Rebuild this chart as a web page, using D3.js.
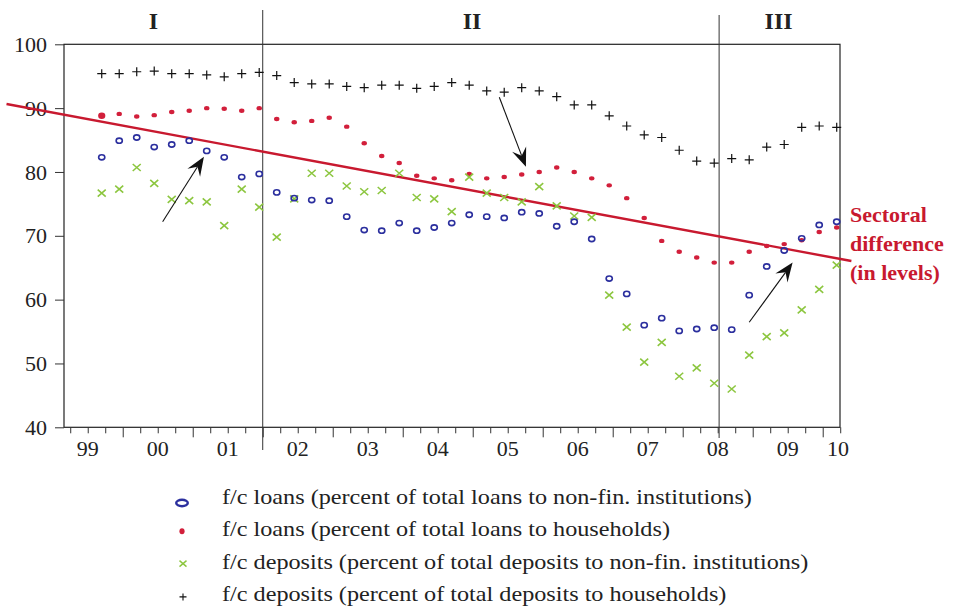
<!DOCTYPE html>
<html><head><meta charset="utf-8">
<script src="https://cdn.jsdelivr.net/npm/d3@7"></script>
<style>
body{margin:0;background:#fff}
svg{display:block}
text{font-family:"Liberation Serif","Times New Roman",serif;fill:#222}
</style>
</head><body>
<svg id="chart" width="963" height="608"></svg>
<script>
// ---------------- DATA ----------------
const quarters = ["1999Q3","1999Q4",
 "2000Q1","2000Q2","2000Q3","2000Q4",
 "2001Q1","2001Q2","2001Q3","2001Q4",
 "2002Q1","2002Q2","2002Q3","2002Q4",
 "2003Q1","2003Q2","2003Q3","2003Q4",
 "2004Q1","2004Q2","2004Q3","2004Q4",
 "2005Q1","2005Q2","2005Q3","2005Q4",
 "2006Q1","2006Q2","2006Q3","2006Q4",
 "2007Q1","2007Q2","2007Q3","2007Q4",
 "2008Q1","2008Q2","2008Q3","2008Q4",
 "2009Q1","2009Q2","2009Q3","2009Q4",
 "2010Q1"];
// f/c loans (percent of total loans to non-fin. institutions)
const loansNonFin = [82.3,84.9,85.4,83.9,84.3,84.9,83.3,82.3,79.2,79.7,
 76.8,75.9,75.6,75.5,73.0,70.9,70.8,72.0,70.8,71.3,
 72.0,73.3,73.0,72.8,73.7,73.5,71.5,72.2,69.5,63.3,
 60.9,56.0,57.1,55.1,55.4,55.6,55.3,60.7,65.2,67.7,
 69.6,71.7,72.2];
// f/c loans (percent of total loans to households)
const loansHouseholds = [88.8,89.1,88.7,88.9,89.4,89.6,90.0,89.9,89.6,90.0,
 88.3,87.8,88.0,88.5,87.1,84.5,82.5,81.4,79.4,79.0,
 78.7,79.7,79.0,79.2,79.6,80.0,80.7,80.0,79.0,77.9,
 75.9,72.8,69.2,67.5,66.6,65.8,65.8,67.5,68.4,68.7,
 69.3,70.6,71.3];
// f/c deposits (percent of total deposits to non-fin. institutions)
const depositsNonFin = [76.7,77.3,80.7,78.2,75.7,75.5,75.3,71.6,77.3,74.5,
 69.8,75.8,79.8,79.8,77.8,76.9,77.1,79.8,76.0,75.8,
 73.8,79.2,76.7,76.0,75.3,77.7,74.7,73.1,72.9,60.7,
 55.7,50.2,53.3,48.0,49.3,46.9,46.0,51.3,54.2,54.8,
 58.4,61.6,65.4];
// f/c deposits (percent of total deposits to households)
const depositsHouseholds = [95.4,95.4,95.7,95.8,95.4,95.4,95.2,94.9,95.4,95.6,
 95.1,94.0,93.8,93.8,93.4,93.2,93.6,93.6,93.1,93.4,
 94.0,93.6,92.7,92.5,93.2,92.7,91.8,90.5,90.5,88.8,
 87.2,85.8,85.4,83.4,81.7,81.4,82.1,81.9,83.9,84.3,
 87.0,87.2,87.0];

const yTicks = [40,50,60,70,80,90,100];
const yearTicks = [1999,2000,2001,2002,2003,2004,2005,2006,2007,2008,2009,2010];
const yearLabels = ["99","00","01","02","03","04","05","06","07","08","09","10"];
const sectionBreaks = [2002.0, 2008.52];
const sectionLabels = ["I","II","III"];
const sectionLabelAt = [2000.44, 2004.99, 2009.37];
// trend line "Sectoral difference (in levels)" endpoints [time, value]
const trendLine = [[1998.34, 90.65],[2010.41, 66.05]];
// annotation arrows [tail, tip] as [time, value]
const arrows = [
  [[2000.57, 72.2],[2001.16, 82.4]],
  [[2005.38, 91.7],[2005.76, 80.8]],
  [[2008.95, 56.45],[2009.57, 65.8]]
];
const trendLabel = ["Sectoral","difference","(in levels)"];
const legendLabels = [
  "f/c loans (percent of total loans to non-fin. institutions)",
  "f/c loans (percent of total loans to households)",
  "f/c deposits (percent of total deposits to non-fin. institutions)",
  "f/c deposits (percent of total deposits to households)"
];

// ---------------- CHART ----------------
(function(){
const svg = d3.select("#chart");
const pL = 64, pR = 840, pT = 44.3, pB = 427.3;
const x = d3.scaleLinear().domain([1999.161, 2010.247]).range([pL, pR]);
const y = d3.scaleLinear().domain([40, 100]).range([pB, pT]);
const qTime = q => +q.slice(0,4) + (+q.slice(5)) / 4 - 0.05;

const colors = {blue:"#2b2f9e", red:"#d21f3b", green:"#8cc63f", black:"#111", trend:"#c8192f"};

// frame
svg.append("rect").attr("x", pL).attr("y", pT).attr("width", pR-pL).attr("height", pB-pT)
  .attr("fill","none").attr("stroke","#222").attr("stroke-width",1.2);

// y axis
const yAxis = svg.append("g").attr("transform",`translate(${pL},0)`)
  .call(d3.axisLeft(y).tickValues(yTicks).tickSize(9).tickSizeOuter(0).tickPadding(8));
yAxis.select(".domain").remove();
yAxis.selectAll("line").attr("stroke","#333");
yAxis.selectAll("text").style("font-size","22px").attr("fill","#222")
  .style("font-family","'Liberation Serif','Times New Roman',serif");

// x axis quarter ticks
const qTicks = d3.range(1999.25, 2010.26, 0.25);
const xAxis = svg.append("g").attr("transform",`translate(0,${pB})`)
  .call(d3.axisBottom(x).tickValues(qTicks).tickSize(6).tickSizeOuter(0).tickFormat(""));
xAxis.select(".domain").remove();
xAxis.selectAll(".tick line").attr("stroke","#333")
  .attr("y2", d => Math.abs(d - Math.round(d)) < 1e-6 ? 10 : 6);

// year labels
svg.append("g").selectAll("text").data(yearTicks).join("text")
  .attr("x", (d,i) => Math.min(x(d + 0.5), pR - 2))
  .attr("y", 456)
  .attr("text-anchor","middle")
  .style("font-size","22px")
  .text((d,i) => yearLabels[i]);

// section lines
svg.append("g").selectAll("line").data(sectionBreaks).join("line")
  .attr("x1", d => x(d)).attr("x2", d => x(d))
  .attr("y1", (d,i) => i === 0 ? 10 : 15)
  .attr("y2", (d,i) => i === 0 ? 450 : 438)
  .attr("stroke","#333").attr("stroke-width",1);

svg.append("g").selectAll("text").data(sectionLabels).join("text")
  .attr("x", (d,i) => x(sectionLabelAt[i])).attr("y", 29)
  .attr("text-anchor","middle").style("font-size","24px").style("font-weight","bold")
  .text(d => d);

// trend line
svg.append("line")
  .attr("x1", x(trendLine[0][0])).attr("y1", y(trendLine[0][1]))
  .attr("x2", x(trendLine[1][0])).attr("y2", y(trendLine[1][1]))
  .attr("stroke", colors.trend).attr("stroke-width", 2.4);

// series
const pts = vals => vals.map((v,i) => ({t: qTime(quarters[i]), v}));

const gS = svg.append("g");
gS.append("g").selectAll("path").data(pts(depositsHouseholds)).join("path")
  .attr("transform", d => `translate(${x(d.t)},${y(d.v)})`)
  .attr("d","M-4.5,0H4.5M0,-4.5V4.5").attr("stroke",colors.black).attr("stroke-width",1.2);

gS.append("g").selectAll("ellipse").data(pts(loansHouseholds)).join("ellipse")
  .attr("cx", d => x(d.t)).attr("cy", d => y(d.v))
  .attr("rx", (d,i) => i === 0 ? 3.6 : 2.7).attr("ry", (d,i) => i === 0 ? 3.3 : 2.2)
  .attr("fill", colors.red);

gS.append("g").selectAll("path").data(pts(depositsNonFin)).join("path")
  .attr("transform", d => `translate(${x(d.t)},${y(d.v)})`)
  .attr("d","M-4,-3.5L4,3.5M-4,3.5L4,-3.5").attr("stroke",colors.green).attr("stroke-width",1.6);

gS.append("g").selectAll("ellipse").data(pts(loansNonFin)).join("ellipse")
  .attr("cx", d => x(d.t)).attr("cy", d => y(d.v))
  .attr("rx", 3.1).attr("ry", 2.6)
  .attr("fill","none").attr("stroke", colors.blue).attr("stroke-width",1.6);

// arrows
const gA = svg.append("g");
arrows.forEach(([a,b]) => {
  const x0 = x(a[0]), y0 = y(a[1]), x1 = x(b[0]), y1 = y(b[1]);
  const len = Math.hypot(x1-x0, y1-y0), dx = (x1-x0)/len, dy = (y1-y0)/len;
  const nx = -dy, ny = dx, L = 19, W = 7.5, N = 12;
  gA.append("line").attr("x1",x0).attr("y1",y0).attr("x2",x1 - dx*N).attr("y2",y1 - dy*N)
    .attr("stroke","#111").attr("stroke-width",1.1);
  const p = [[x1,y1],[x1-dx*L+nx*W, y1-dy*L+ny*W],[x1-dx*N, y1-dy*N],[x1-dx*L-nx*W, y1-dy*L-ny*W]];
  gA.append("path").attr("d","M"+p.map(q=>q.join(",")).join("L")+"Z").attr("fill","#111");
});

// trend label
svg.append("g").selectAll("text").data(trendLabel).join("text")
  .attr("x", 850).attr("y", (d,i) => 222 + i*29)
  .style("font-size","22px").style("font-weight","bold")
  .style("fill", colors.trend)
  .text(d => d);

// legend
const lg = svg.append("g");
const rowY = i => 504 + i*32.3;
const lx = 222, sx = 1.10;
lg.selectAll("text").data(legendLabels).join("text")
  .attr("transform", (d,i) => `translate(${lx},${rowY(i)}) scale(${sx},1)`)
  .style("font-size","22px").text(d => d);
lg.append("ellipse").attr("cx",182).attr("cy",rowY(0)-1).attr("rx",5.8).attr("ry",3.2)
  .attr("fill","none").attr("stroke",colors.blue).attr("stroke-width",2.4);
lg.append("ellipse").attr("cx",182).attr("cy",rowY(1)-5).attr("rx",2.6).attr("ry",3)
  .attr("fill",colors.red);
lg.append("path").attr("transform",`translate(183,${rowY(2)-5})`)
  .attr("d","M-3.5,-3L3.5,3M-3.5,3L3.5,-3").attr("stroke",colors.green).attr("stroke-width",1.4);
lg.append("path").attr("transform",`translate(183,${rowY(3)-4})`)
  .attr("d","M-3.5,0H3.5M0,-3.5V3.5").attr("stroke","#111").attr("stroke-width",1.1);
})();
</script>
</body></html>
